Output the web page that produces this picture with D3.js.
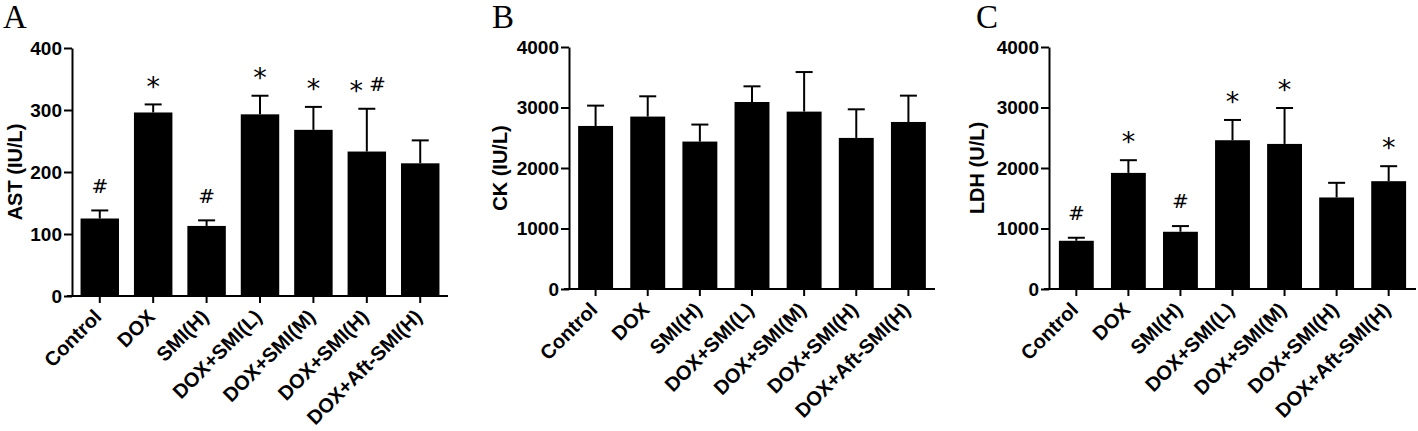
<!DOCTYPE html>
<html>
<head>
<meta charset="utf-8">
<script src="https://cdn.jsdelivr.net/npm/d3@7"></script>
<style>
  html, body { margin: 0; padding: 0; background: #fff; }
  svg { display: block; }
</style>
</head>
<body>
<div id="chart"></div>
<script>
(function() {
    const groups = ["Control", "DOX", "SMI(H)", "DOX+SMI(L)", "DOX+SMI(M)", "DOX+SMI(H)", "DOX+Aft-SMI(H)"];

    // AST (IU/L)
    const astMean = [125, 296, 113, 293, 268, 233, 214];
    const astErr = [13, 13, 9, 30, 37, 69, 37];
    const astMarks = ["#", "*", "#", "*", "*", "* #", ""];
    const astTicks = [0, 100, 200, 300, 400];

    // CK (IU/L)
    const ckMean = [2695, 2850, 2437, 3091, 2932, 2497, 2761];
    const ckErr = [336, 335, 281, 259, 654, 473, 435];
    const ckMarks = ["", "", "", "", "", "", ""];
    const ckTicks = [0, 1000, 2000, 3000, 4000];

    // LDH (U/L)
    const ldhMean = [797, 1919, 946, 2459, 2398, 1513, 1782];
    const ldhErr = [50, 210, 94, 335, 594, 242, 248];
    const ldhMarks = ["#", "*", "#", "*", "*", "", "*"];
    const ldhTicks = [0, 1000, 2000, 3000, 4000];

    const W = 1418, H = 431;
    const svg = d3.select("#chart").append("svg").attr("width", W).attr("height", H);

    const panels = [
        { letter: "A", title: "AST (IU/L)", mean: astMean, err: astErr, marks: astMarks, ticks: astTicks,
          letterX: 3, left: 72, right: 448, top: 48, bottom: 296, padIn: 0.28, padOut: 0.16, titleX: 15 },
        { letter: "B", title: "CK (IU/L)", mean: ckMean, err: ckErr, marks: ckMarks, ticks: ckTicks,
          letterX: 492, left: 569, right: 935, top: 47, bottom: 289, padIn: 0.33, padOut: 0.175, titleX: 500 },
        { letter: "C", title: "LDH (U/L)", mean: ldhMean, err: ldhErr, marks: ldhMarks, ticks: ldhTicks,
          letterX: 976, left: 1049, right: 1416, top: 47, bottom: 289, padIn: 0.33, padOut: 0.19, titleX: 977 }
    ];

    const sans = "'Liberation Sans', Arial, sans-serif";
    const markFont = "'DejaVu Sans', sans-serif";

    panels.forEach(p => {
        const g = svg.append("g");
        const x = d3.scaleBand().domain(groups).range([p.left, p.right])
            .paddingInner(p.padIn).paddingOuter(p.padOut);
        const y = d3.scaleLinear().domain([0, d3.max(p.ticks)]).range([p.bottom, p.top]);

        // bars
        g.selectAll("rect.bar").data(groups).join("rect")
            .attr("class", "bar")
            .attr("x", d => x(d))
            .attr("y", (d, i) => y(p.mean[i]))
            .attr("width", x.bandwidth())
            .attr("height", (d, i) => y(0) - y(p.mean[i]))
            .attr("fill", "#000");

        // error bars (upper only)
        const cap = 8.5;
        groups.forEach((d, i) => {
            const cx = x(d) + x.bandwidth() / 2;
            const yt = y(p.mean[i] + p.err[i]);
            g.append("line").attr("x1", cx).attr("x2", cx)
                .attr("y1", y(p.mean[i])).attr("y2", yt)
                .attr("stroke", "#000").attr("stroke-width", 2);
            g.append("line").attr("x1", cx - cap).attr("x2", cx + cap)
                .attr("y1", yt).attr("y2", yt)
                .attr("stroke", "#000").attr("stroke-width", 2);

            // significance marks
            const syms = p.marks[i] ? p.marks[i].split(" ") : [];
            const cy = yt - 25;
            syms.forEach((s, k) => {
                const sx = cx + (k - (syms.length - 1) / 2) * 21;
                const star = s === "*";
                g.append("text")
                    .attr("x", sx)
                    .attr("y", star ? cy + 0.6 * 27 : cy + 0.36 * 20)
                    .attr("text-anchor", "middle")
                    .style("font-family", markFont)
                    .style("font-size", star ? "27px" : "20px")
                    .text(s);
            });
        });

        // y axis
        const yAxis = g.append("g")
            .attr("transform", `translate(${p.left},0)`)
            .call(d3.axisLeft(y).tickValues(p.ticks).tickFormat(d3.format("d"))
                .tickSize(8).tickPadding(2).tickSizeOuter(0));
        yAxis.select(".domain").attr("stroke-width", 2);
        yAxis.selectAll(".tick line").attr("stroke-width", 2);
        yAxis.selectAll(".tick text")
            .style("font-family", sans).style("font-weight", "bold").style("font-size", "19px")
            .attr("fill", "#000");

        // x axis
        const xAxis = g.append("g")
            .attr("transform", `translate(0,${p.bottom})`)
            .call(d3.axisBottom(x).tickSize(7).tickSizeOuter(0));
        xAxis.select(".domain").attr("d", `M${p.left - 5},0H${p.right}`).attr("stroke-width", 2);
        xAxis.selectAll(".tick line").attr("stroke-width", 2);
        xAxis.selectAll(".tick text")
            .style("font-family", sans).style("font-weight", "bold").style("font-size", "20px")
            .attr("fill", "#000")
            .attr("text-anchor", "end")
            .attr("x", 0).attr("y", 0).attr("dy", 0)
            .attr("transform", "translate(3,22) rotate(-45)");

        // y title
        g.append("text")
            .attr("transform", `translate(${p.titleX},${(p.top + p.bottom) / 2}) rotate(-90)`)
            .attr("text-anchor", "middle")
            .attr("dominant-baseline", "central")
            .style("font-family", sans).style("font-weight", "bold").style("font-size", "20px")
            .text(p.title);

        // panel letter
        g.append("text")
            .attr("x", p.letterX).attr("y", 28)
            .style("font-family", "'Liberation Serif', 'Times New Roman', serif")
            .style("font-size", "33px")
            .text(p.letter);
    });
})();
</script>
</body>
</html>
